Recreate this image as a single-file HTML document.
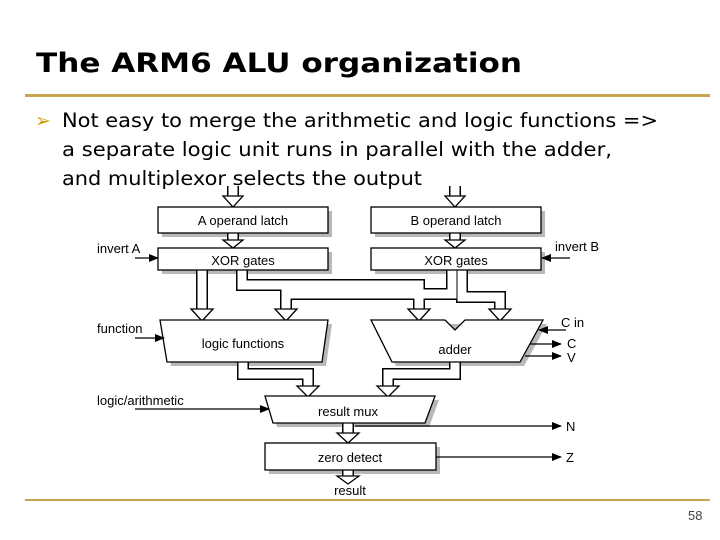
<!DOCTYPE html>
<html><head><meta charset="utf-8"><style>
html,body{margin:0;padding:0;background:#fff}
body{width:720px;height:540px;overflow:hidden;position:relative;font-family:"Liberation Sans",sans-serif}
</style></head><body>
<svg width="720" height="540" viewBox="0 0 720 540" xmlns="http://www.w3.org/2000/svg" style="position:absolute;left:0;top:0">
<defs>
<marker id="ah" markerWidth="10" markerHeight="8" refX="9" refY="4" orient="auto" markerUnits="userSpaceOnUse">
<path d="M0,0 L10,4 L0,8 z" fill="#000"/></marker>
</defs>
<text x="36" y="72" font-family="DejaVu Sans" font-weight="bold" font-size="27" fill="#000" textLength="486" lengthAdjust="spacingAndGlyphs">The ARM6 ALU organization</text>
<rect x="25" y="94" width="685" height="3" fill="#c9a64e"/>
<rect x="25" y="499" width="685" height="2" fill="#c9a64e"/>
<text x="688" y="520" font-size="13" fill="#444">58</text>
<text x="35" y="127" font-family="DejaVu Sans" font-size="19" fill="#d4a000">➢</text>
<g font-family="DejaVu Sans" font-size="19.5" fill="#000">
<text x="62" y="127" textLength="596" lengthAdjust="spacingAndGlyphs">Not easy to merge the arithmetic and logic functions =&gt;</text>
<text x="62" y="156" textLength="550" lengthAdjust="spacingAndGlyphs">a separate logic unit runs in parallel with the adder,</text>
<text x="62" y="185" textLength="360" lengthAdjust="spacingAndGlyphs">and multiplexor selects the output</text>
</g>

<g fill="#b8b8b8">
<rect x="162" y="211" width="170" height="26"/>
<rect x="375" y="211" width="170" height="26"/>
<rect x="162" y="252" width="170" height="22"/>
<rect x="375" y="252" width="170" height="22"/>
<polygon points="164,324 332,324 326,366 171,366"/>
<polygon points="375,324 547,324 524,366 396,366"/>
<polygon points="269,400 439,400 429,427 277,427"/>
<rect x="269" y="447" width="171" height="27"/>
</g>

<g fill="none" stroke-linejoin="miter" stroke-linecap="butt">
<g stroke="#000" stroke-width="12">
<path d="M233,186 V197"/><path d="M455,186 V197"/>
<path d="M233,233 V240"/><path d="M455,233 V240"/>
<path d="M202,270 V310"/>
<path d="M242,270 V285 H419 V310"/>
<path d="M452,270 V294 H286 V310"/>
<path d="M462,270 V297 H500 V310"/>
<path d="M243,362 V374 H308 V387"/>
<path d="M455,360 V374 H388 V387"/>
<path d="M348,422 V434"/>
<path d="M348,470 V476"/>
</g>
<g stroke="#fff" stroke-width="9">
<path d="M233,185 V198"/><path d="M455,185 V198"/>
<path d="M233,232 V241"/><path d="M455,232 V241"/>
<path d="M202,269 V311"/>
<path d="M242,269 V285 H419 V311"/>
<path d="M452,269 V294 H286 V311"/>
<path d="M462,269 V297 H500 V311"/>
<path d="M243,361 V374 H308 V388"/>
<path d="M455,359 V374 H388 V388"/>
<path d="M348,421 V435"/>
<path d="M348,469 V477"/>
</g>
</g>
<g fill="#fff" stroke="#000" stroke-width="1.3">
<polygon points="223,196 243,196 233,207"/>
<polygon points="445,196 465,196 455,207"/>
<polygon points="223,240 243,240 233,248"/>
<polygon points="445,240 465,240 455,248"/>
<polygon points="191,309 213,309 202,321"/>
<polygon points="408,309 430,309 419,321"/>
<polygon points="275,309 297,309 286,321"/>
<polygon points="489,309 511,309 500,321"/>
<polygon points="297,386 319,386 308,397"/>
<polygon points="377,386 399,386 388,397"/>
<polygon points="337,433 359,433 348,443"/>
<polygon points="337,476 359,476 348,484"/>
</g>

<g fill="#fff" stroke="#000" stroke-width="1.3">
<rect x="158" y="207" width="170" height="26"/>
<rect x="371" y="207" width="170" height="26"/>
<rect x="158" y="248" width="170" height="22"/>
<rect x="371" y="248" width="170" height="22"/>
<polygon points="160,320 328,320 322,362 167,362"/>
<polygon points="371,320 445,320 455,330 465,320 543,320 520,362 392,362"/>
<polygon points="265,396 435,396 425,423 273,423"/>
<rect x="265" y="443" width="171" height="27"/>
</g>
<g font-size="13" fill="#000" text-anchor="middle">
<text x="243" y="225">A operand latch</text>
<text x="456" y="225">B operand latch</text>
<text x="243" y="265">XOR gates</text>
<text x="456" y="265">XOR gates</text>
<text x="243" y="348">logic functions</text>
<text x="455" y="354">adder</text>
<text x="348" y="416">result mux</text>
<text x="350" y="462">zero detect</text>
<text x="350" y="495">result</text>
</g>
<g font-size="13" fill="#000">
<text x="97" y="253">invert A</text>
<text x="555" y="251">invert B</text>
<text x="97" y="333">function</text>
<text x="561" y="327">C in</text>
<text x="567" y="348">C</text>
<text x="567" y="362">V</text>
<text x="97" y="405">logic/arithmetic</text>
<text x="566" y="431">N</text>
<text x="566" y="462">Z</text>
</g>
<g stroke="#000" stroke-width="1.2" marker-end="url(#ah)">
<line x1="135" y1="258" x2="158" y2="258"/>
<line x1="570" y1="258" x2="542" y2="258"/>
<line x1="135" y1="338" x2="164" y2="338"/>
<line x1="566" y1="330" x2="539" y2="330"/>
<line x1="530" y1="344" x2="561" y2="344"/>
<line x1="525" y1="356" x2="561" y2="356"/>
<line x1="135" y1="409" x2="269" y2="409"/>
<line x1="355" y1="426" x2="561" y2="426"/>
<line x1="436" y1="457" x2="561" y2="457"/>
</g>
</svg>
</body></html>
